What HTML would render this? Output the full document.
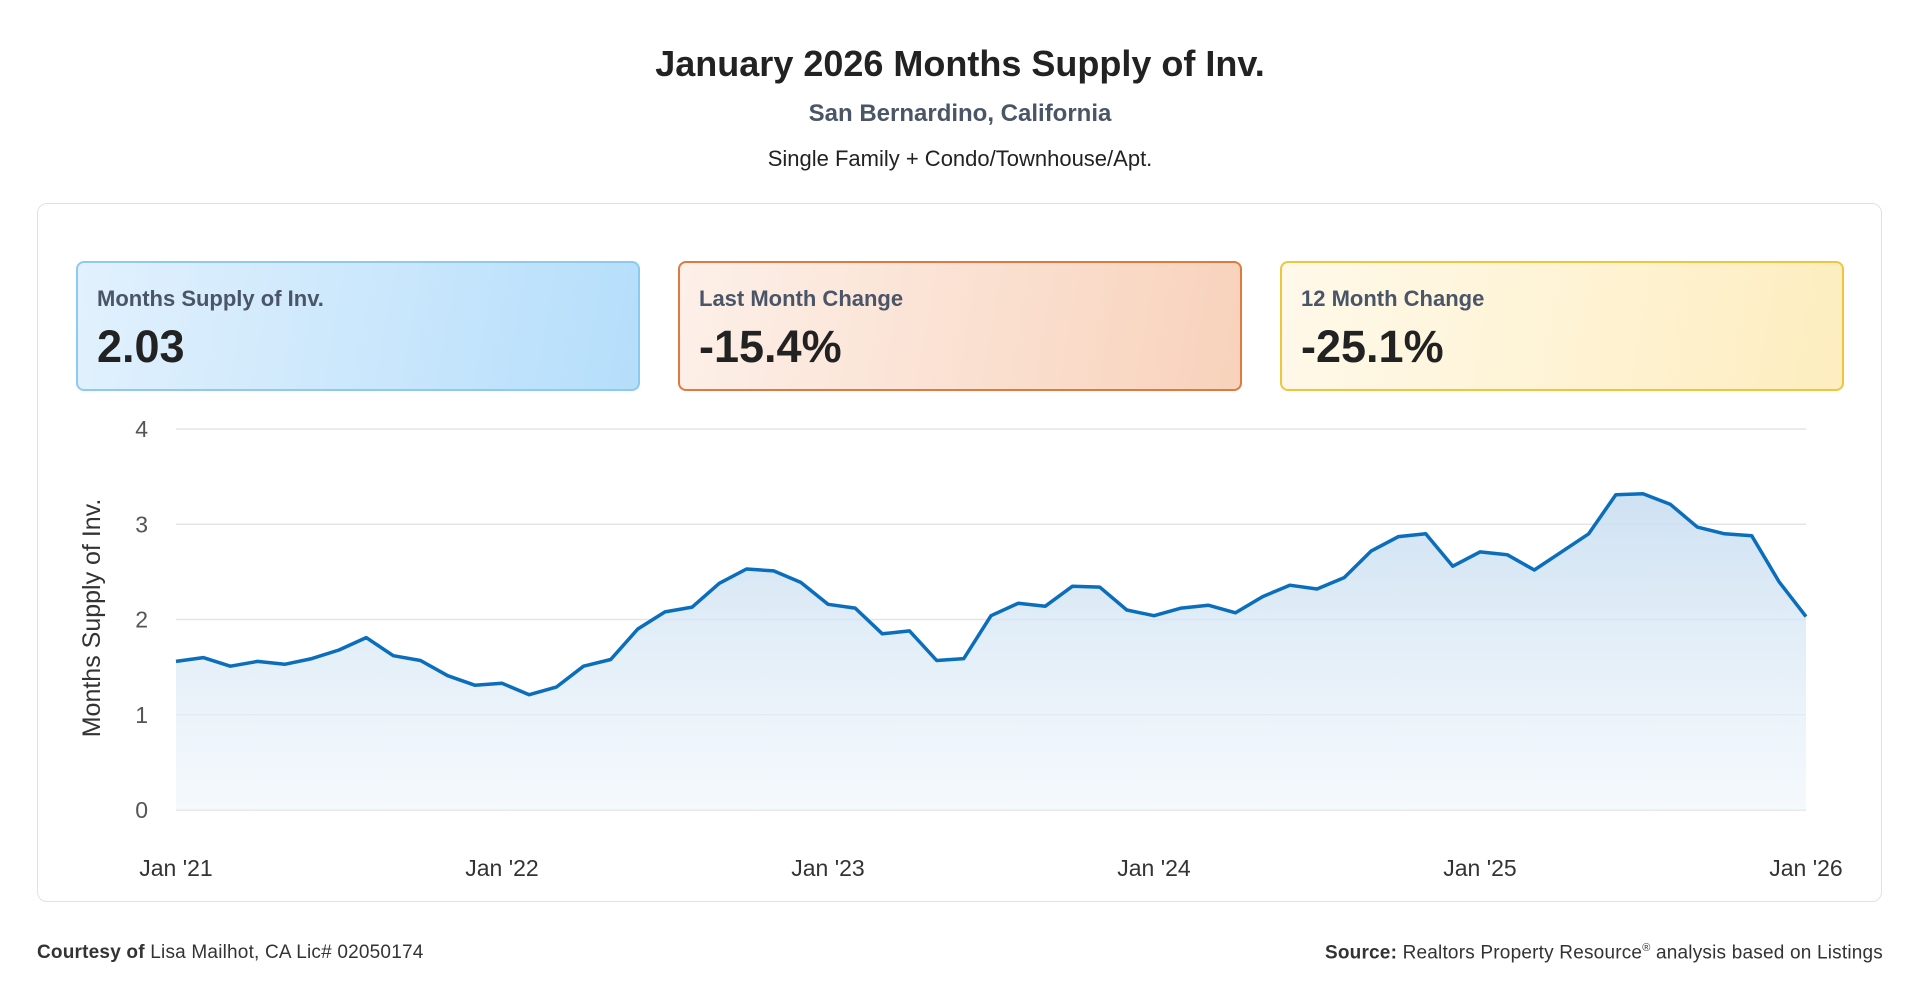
<!DOCTYPE html>
<html><head><meta charset="utf-8"><style>
body{margin:0;width:1920px;height:1007px;background:#fff;font-family:"Liberation Sans",sans-serif;position:relative;overflow:hidden;color:#222}
.t{position:absolute;left:0;width:1920px;text-align:center}
.card{position:absolute;left:37px;top:203px;width:1845px;height:699px;border:1.5px solid #dde2e8;border-radius:10px;box-sizing:border-box}
.kpi{position:absolute;top:261px;width:564px;height:130px;border-radius:8px;box-sizing:border-box;border:2px solid}
.kpi .l{position:absolute;left:19px;top:23px;font-size:22px;font-weight:bold;color:#4a5568}
.kpi .v{position:absolute;left:19px;top:58px;font-size:45px;font-weight:bold;color:#222}
.foot{position:absolute;top:942px;font-size:19px;color:#333;letter-spacing:0.2px}
</style></head><body>
<div class="t" style="top:43px;font-size:36px;font-weight:bold;color:#222">January 2026 Months Supply of Inv.</div>
<div class="t" style="top:100px;font-size:24px;font-weight:bold;color:#4a5568">San Bernardino, California</div>
<div class="t" style="top:146px;font-size:22px;color:#222">Single Family + Condo/Townhouse/Apt.</div>
<div class="card"></div>
<div class="kpi" style="left:76px;border-color:#8ccaf0;background:linear-gradient(100deg,#e2f1fd,#b5defb)"><div class="l">Months Supply of Inv.</div><div class="v">2.03</div></div>
<div class="kpi" style="left:678px;border-color:#e0793f;background:linear-gradient(100deg,#fdf0e9,#f8d2bb)"><div class="l">Last Month Change</div><div class="v">-15.4%</div></div>
<div class="kpi" style="left:1280px;border-color:#f0c53c;background:linear-gradient(100deg,#fff9ea,#fdedbf)"><div class="l">12 Month Change</div><div class="v">-25.1%</div></div>
<svg id="chart" width="1920" height="1007" style="position:absolute;left:0;top:0">
<defs><linearGradient id="fg" x1="0" y1="0" x2="0" y2="1"><stop offset="0" stop-color="#c6dcf0" stop-opacity="0.85"/><stop offset="1" stop-color="#eef5fb" stop-opacity="0.6"/></linearGradient></defs>
</svg>
<div class="foot" style="left:37px"><b>Courtesy of</b> Lisa Mailhot, CA Lic# 02050174</div>
<div class="foot" style="right:37px"><b>Source:</b> Realtors Property Resource<sup style="font-size:11px">®</sup> analysis based on Listings</div>
<script>
const values=[1.56,1.60,1.51,1.56,1.53,1.59,1.68,1.81,1.62,1.57,1.41,1.31,
1.33,1.21,1.29,1.51,1.58,1.90,2.08,2.13,2.38,2.53,2.51,2.39,
2.16,2.12,1.85,1.88,1.57,1.59,2.04,2.17,2.14,2.35,2.34,2.10,
2.04,2.12,2.15,2.07,2.24,2.36,2.32,2.44,2.72,2.87,2.90,2.56,
2.71,2.68,2.52,2.71,2.90,3.31,3.32,3.21,2.97,2.90,2.88,2.40,2.03];
const yTicks=[0,1,2,3,4];
const xTickLabels=["Jan '21","Jan '22","Jan '23","Jan '24","Jan '25","Jan '26"];
const NS="http://www.w3.org/2000/svg";
const svg=document.getElementById('chart');
const X0=176,X1=1806,Y0=810,Y4=429;
const xs=i=>X0+(X1-X0)*i/(values.length-1);
const ys=v=>Y0-(Y0-Y4)*v/4;
function mk(t,a){const e=document.createElementNS(NS,t);for(const k in a)e.setAttribute(k,a[k]);svg.appendChild(e);return e;}
yTicks.forEach(t=>{
 const g=mk('line',{x1:X0,x2:X1,y1:ys(t),y2:ys(t),stroke:'#e2e5ea','stroke-width':1.5});
 
 
 const l=mk('text',{x:148,y:ys(t)+8,'text-anchor':'end','font-size':23,fill:'#555','font-family':'Liberation Sans, sans-serif'});
 l.textContent=t;
 
 
});
xTickLabels.forEach((s,k)=>{
 const l=mk('text',{x:xs(k*12),y:876,'text-anchor':'middle','font-size':23,fill:'#333','font-family':'Liberation Sans, sans-serif'});
 l.textContent=s;
 
 
});
const yt=mk('text',{x:0,y:0,transform:'translate(100,618) rotate(-90)','text-anchor':'middle','font-size':25,fill:'#333','font-family':'Liberation Sans, sans-serif'});
yt.textContent='Months Supply of Inv.';


let pts=values.map((v,i)=>xs(i).toFixed(1)+','+ys(v).toFixed(1));
const area=mk('path',{d:'M'+xs(0)+','+Y0+' L'+pts.join(' L')+' L'+xs(values.length-1)+','+Y0+' Z',fill:'url(#fg)'});


const line=mk('polyline',{points:pts.join(' '),fill:'none',stroke:'#0a6ebd','stroke-width':3.5,'stroke-linejoin':'round'});


</script>
</body></html>
